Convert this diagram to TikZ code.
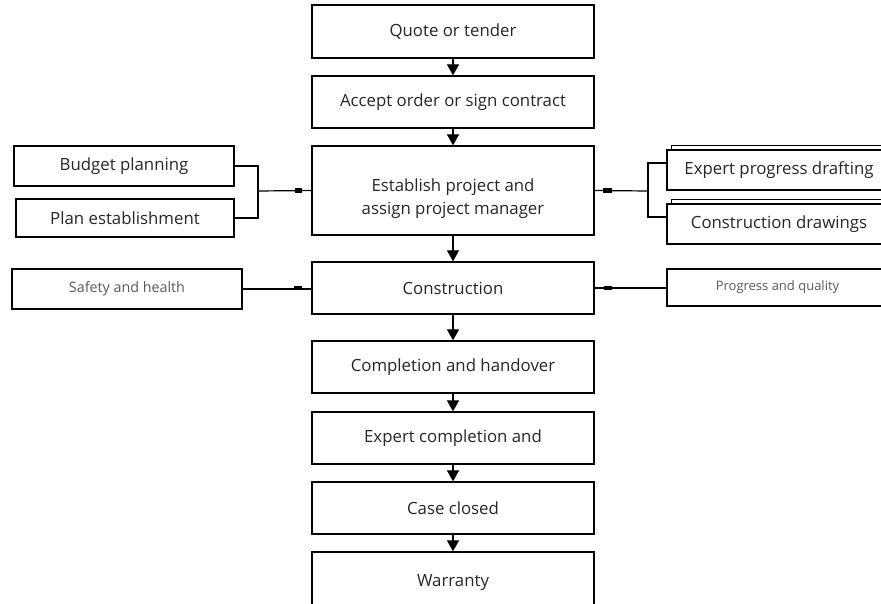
\documentclass[tikz,border=0pt]{standalone}
\usepackage{fontspec}
\setmainfont{Open Sans}
\usetikzlibrary{arrows.meta}
\tikzset{
  box/.style={draw=black, line width=1.3pt, inner sep=0pt, text=black!85, font=\fontsize{16.8}{20}\selectfont, align=center},
  sidebox/.style={box},
  smallbox/.style={box, text=black!65},
  flow/.style={line width=1.2pt, -{Triangle[width=12pt,length=11pt]}},
  link/.style={line width=1.2pt},
}
\begin{document}
\begin{tikzpicture}[x=1pt,y=-1pt]
\useasboundingbox (0,0) rectangle (881,604);
\clip (0,0) rectangle (881,604);
% main column
\node[box, minimum width=282pt, minimum height=53pt] (quote) at (453,31.5) {Quote or tender};
\node[box, minimum width=282pt, minimum height=52pt] (accept) at (453,102) {Accept order or sign contract};
\node[box, minimum width=282pt, minimum height=89pt] (est) at (453,190.5) {};
\node[text=black!85, font=\fontsize{16.8}{23}\selectfont, align=center] (estT) at (453,199) {Establish project and\\assign project manager};
\node[box, minimum width=282pt, minimum height=52pt] (cons) at (453,288) {Construction};
\node[box, minimum width=282pt, minimum height=52pt] (compl) at (453,367) {Completion and handover};
\node[box, minimum width=282pt, minimum height=52pt] (expc) at (453,438) {Expert completion and};
\node[box, minimum width=282pt, minimum height=52pt] (closed) at (453,508) {Case closed};
\node[box, minimum width=282pt, minimum height=62pt] (warr) at (453,583) {Warranty};
% arrows
\draw[flow] (quote.south) -- (accept.north);
\draw[flow] (accept.south) -- (est.north);
\draw[flow] (est.south) -- (cons.north);
\draw[flow] (cons.south) -- (compl.north);
\draw[flow] (compl.south) -- (expc.north);
\draw[flow] (expc.south) -- (closed.north);
\draw[flow] (closed.south) -- (warr.north);
% left side boxes
\node[sidebox, minimum width=220pt, minimum height=40pt] (budget) at (124,166) {Budget planning};
\node[sidebox, minimum width=218pt, minimum height=38pt] (plan) at (125,218) {Plan establishment};
\node[smallbox, font=\fontsize{14.3}{16}\selectfont, minimum width=230pt, minimum height=40pt] (safety) at (127,289) {Safety and health};
% right side boxes
\node[sidebox, minimum width=224pt, minimum height=40pt] (epd) at (779,170) {Expert progress drafting};
\node[sidebox, minimum width=224pt, minimum height=40pt] (cdr) at (779,224) {Construction drawings};
\node[smallbox, font=\fontsize{13}{15}\selectfont, minimum width=221pt, minimum height=37pt] (pq) at (777.5,287.5) {Progress and quality};
% shadow top edges of right boxes
\draw[line width=1pt] ([xshift=5pt]epd.north west) -- ++(0,-4) -- ([yshift=4pt]epd.north east);
\draw[line width=1pt] ([xshift=5pt]cdr.north west) -- ++(0,-4) -- ([yshift=4pt]cdr.north east);
% left connectors
\coordinate (jl) at (258,191);
\draw[link] (budget.east) -| (jl) |- (plan.east);
\draw[link] (jl) -- (est.west);
\fill (295,188.5) rectangle (302,193.5);
% right connectors
\coordinate (jr) at (648,191);
\draw[link] (est.east) -- (jr);
\draw[link] ([yshift=7pt]epd.west) -| (jr) |- ([yshift=7pt]cdr.west);
\fill (603,188.5) rectangle (612,193.5);
% construction row connectors
\draw[link] (safety.east) -- (safety.east -| cons.west);
\draw[link] (cons.east) -- (cons.east -| pq.west);
\fill (294,286) rectangle (302,289.5);
\fill (604,286) rectangle (612,289.5);
\end{tikzpicture}
\end{document}
